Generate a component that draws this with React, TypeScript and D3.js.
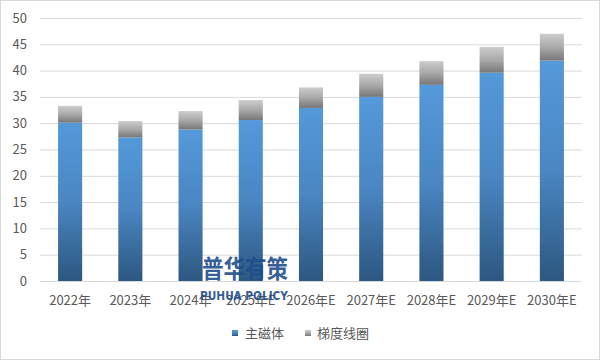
import React from "react";
import * as d3 from "d3";

const categories = ["2022年", "2023年", "2024年", "2025年E", "2026年E", "2027年E", "2028年E", "2029年E", "2030年E"];
const mainMagnet = [30.1, 27.3, 28.8, 30.6, 32.9, 35.0, 37.3, 39.6, 41.9];
const gradientCoil = [3.2, 3.1, 3.5, 3.8, 3.9, 4.4, 4.5, 4.9, 5.1];
const yTicks = [0, 5, 10, 15, 20, 25, 30, 35, 40, 45, 50];
const seriesNames = ["主磁体", "梯度线圈"];

const W = 601, H = 361;
const left = 40, right = 582, top = 18, bottom = 281;
const font = "'Noto Sans CJK SC', 'Noto Sans', sans-serif";

export default function App() {
  const x = d3.scaleBand<string>().domain(categories).range([left, right]).paddingInner(0.6).paddingOuter(0.3);
  const y = d3.scaleLinear().domain([0, 50]).range([bottom, top]);
  const bw = x.bandwidth();
  return (
    <svg width={W} height={H} style={{ position: "absolute", left: 0, top: 0 }}>
      <defs>
        <linearGradient id="gBlue" x1="0" y1="0" x2="0" y2="1">
          <stop offset="0" stopColor="#5499da" />
          <stop offset="0.5" stopColor="#4a86c2" />
          <stop offset="1" stopColor="#2c5780" />
        </linearGradient>
        <linearGradient id="gGray" x1="0" y1="0" x2="0" y2="1">
          <stop offset="0" stopColor="#cdcdcd" />
          <stop offset="0.5" stopColor="#a9a9a9" />
          <stop offset="1" stopColor="#777777" />
        </linearGradient>
      </defs>
      <rect x={0.5} y={0.5} width={W - 2} height={H - 2} fill="#fff" stroke="#d9d9d9" />
      {yTicks.map((t) => (
        <g key={t}>
          <line x1={left} x2={right} y1={y(t) + 0.5} y2={y(t) + 0.5} stroke="#d9d9d9" strokeWidth={1} />
          <text x={27} y={y(t)} dy="0.35em" textAnchor="end" fontSize={13} fill="#595959" fontFamily={font}>{t}</text>
        </g>
      ))}
      {categories.map((c, i) => {
        const x0 = x(c)!;
        const yb = y(mainMagnet[i]);
        const yt = y(mainMagnet[i] + gradientCoil[i]);
        return (
          <g key={c}>
            <rect x={x0} y={yb} width={bw} height={y(0) - yb} fill="url(#gBlue)" />
            <rect x={x0} y={yt} width={bw} height={yb - yt} fill="url(#gGray)" />
            <text x={x0 + bw / 2} y={300} dy="0.35em" textAnchor="middle" fontSize={13} fill="#595959" fontFamily={font}>{c}</text>
          </g>
        );
      })}
      <text x={202} y={278} fontSize={25} fontWeight="bold" fill="#1f4e8c" fontFamily={font} opacity={0.9} textLength={86} lengthAdjust="spacingAndGlyphs">普华有策</text>
      <text x={200} y={300} fontSize={13} fontWeight="bold" fill="#1f4e8c" fontFamily="'DejaVu Sans', sans-serif" opacity={0.9} textLength={88} lengthAdjust="spacingAndGlyphs">PUHUA POLICY</text>
      <g fontFamily={font} fontSize={13} fill="#595959">
        <rect x={232} y={330} width={6} height={6} fill="url(#gBlue)" />
        <text x={245} y={333} dy="0.35em">{seriesNames[0]}</text>
        <rect x={305} y={330} width={6} height={6} fill="url(#gGray)" />
        <text x={317} y={333} dy="0.35em">{seriesNames[1]}</text>
      </g>
    </svg>
  );
}
